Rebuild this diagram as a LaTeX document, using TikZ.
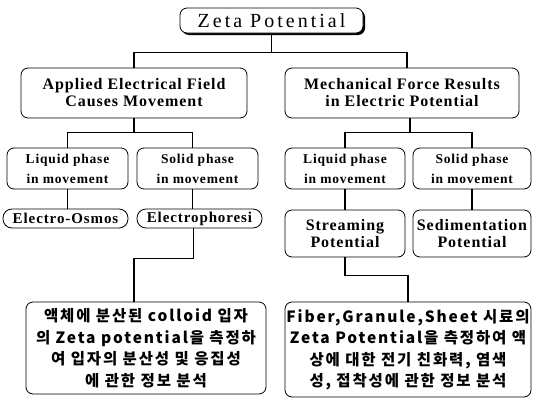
\documentclass[tikz,border=0pt]{standalone}
\usepackage{fontspec}
\setmainfont{Liberation Serif}
\newfontfamily\boxfont[LetterSpace=6]{Liberation Serif}
\newfontfamily\zetafont[LetterSpace=15]{Liberation Serif}
\newfontfamily\korfont[LetterSpace=12]{Noto Sans CJK KR}
\usepackage{tikz}
\usetikzlibrary{shadows}

\tikzset{
  box/.style={draw, rounded corners=7pt, line width=0.8pt, fill=white,
    align=center, inner sep=0pt,
    font=\fontsize{16}{17}\selectfont\boxfont\bfseries},
  small/.style={box, font=\fontsize{13.5}{20}\selectfont\boxfont\bfseries},
  pill/.style={box, rounded corners=9pt,
    font=\fontsize{15}{17}\selectfont\boxfont\bfseries},
  kor/.style={box, font=\fontsize{15.5}{21.5}\selectfont\korfont\bfseries},
  link/.style={line width=1.4pt}
}

\begin{document}
\begin{tikzpicture}[x=1pt,y=1pt]
	  \useasboundingbox (0,0) rectangle (533,-402);
	  % Draw the top box
	  \node (zeta) [box, minimum width=183pt, minimum height=25pt,
	      font=\fontsize{20}{20}\selectfont\zetafont,
	      drop shadow={shadow xshift=2pt, shadow yshift=-2pt, opacity=1, fill=black}]
	      at (271.5,-20.5) {Zeta Potential};
	  % Draw the two causes
	  \node (applied) [box, minimum width=226pt, minimum height=50pt]
	      at (134,-93) {Applied Electrical Field\\Causes Movement};
	  \node (mech) [box, minimum width=234pt, minimum height=50pt]
	      at (402,-93) {Mechanical Force Results\\in Electric Potential};
	  % Draw the phase boxes
	  \node (liqL) [small, minimum width=121pt, minimum height=41pt]
	      at (67.5,-168.5) {Liquid phase\\in movement};
	  \node (solL) [small, minimum width=121pt, minimum height=41pt]
	      at (197.5,-168.5) {Solid phase\\in movement};
	  \node (liqR) [small, minimum width=120pt, minimum height=41pt]
	      at (345,-168.5) {Liquid phase\\in movement};
	  \node (solR) [small, minimum width=118pt, minimum height=41pt]
	      at (472,-168.5) {Solid phase\\in movement};
	  % Draw the effects
	  \node (osmo) [pill, minimum width=125pt, minimum height=19pt]
	      at (65.5,-218.5) {Electro-Osmos};
	  \node (phor) [pill, minimum width=125pt, minimum height=19pt]
	      at (199.5,-218.5) {Electrophoresi};
	  \node (stream) [box, minimum width=120pt, minimum height=47pt]
	      at (345,-233.5) {Streaming\\Potential};
	  \node (sedi) [box, minimum width=118pt, minimum height=47pt]
	      at (472,-233.5) {Sedimentation\\Potential};
	  % Draw the two notes
	  \node (korL) [kor, minimum width=240pt, minimum height=92pt]
	      at (146,-348) {액체에 분산된 colloid 입자\\의 Zeta potential을 측정하\\여 입자의 분산성 및 응집성\\에 관한 정보 분석};
	  \node (korR) [kor, minimum width=246pt, minimum height=95pt]
	      at (408,-349.5) {Fiber,Granule,Sheet 시료의\\Zeta Potential을 측정하여 액\\상에 대한 전기 친화력, 염색\\성, 접착성에 관한 정보 분석};
	  % Connect the boxes
	  \draw [link] (zeta.south) -- ++(0,-19) -| (applied.north);
	  \draw [link] (zeta.south) -- ++(0,-19) -| ([xshift=5pt]mech.north);
	  \draw [link] (applied.south) -- ++(0,-14) -| (liqL.north);
	  \draw [link] (applied.south) -- ++(0,-14) -| ([xshift=-5pt]solL.north);
	  \draw [link] ([xshift=8pt]mech.south) -- ++(0,-14) -| (liqR.north);
	  \draw [link] ([xshift=8pt]mech.south) -- ++(0,-14) -| (solR.north);
	  \draw [link] (liqL.south) -- (osmo.north -| liqL.south);
	  \draw [link] ([xshift=-5pt]solL.south) -- ([xshift=-5pt]solL.south |- phor.north);
	  \draw [link] (liqR.south) -- (stream.north);
	  \draw [link] (solR.south) -- (sedi.north);
	  \draw [link] ([xshift=-6pt]phor.south) -- ++(0,-30) -| ([xshift=-12pt]korL.north);
	  \draw [link] (stream.south) -- ++(0,-18) -| (korR.north);
\end{tikzpicture}
\end{document}
